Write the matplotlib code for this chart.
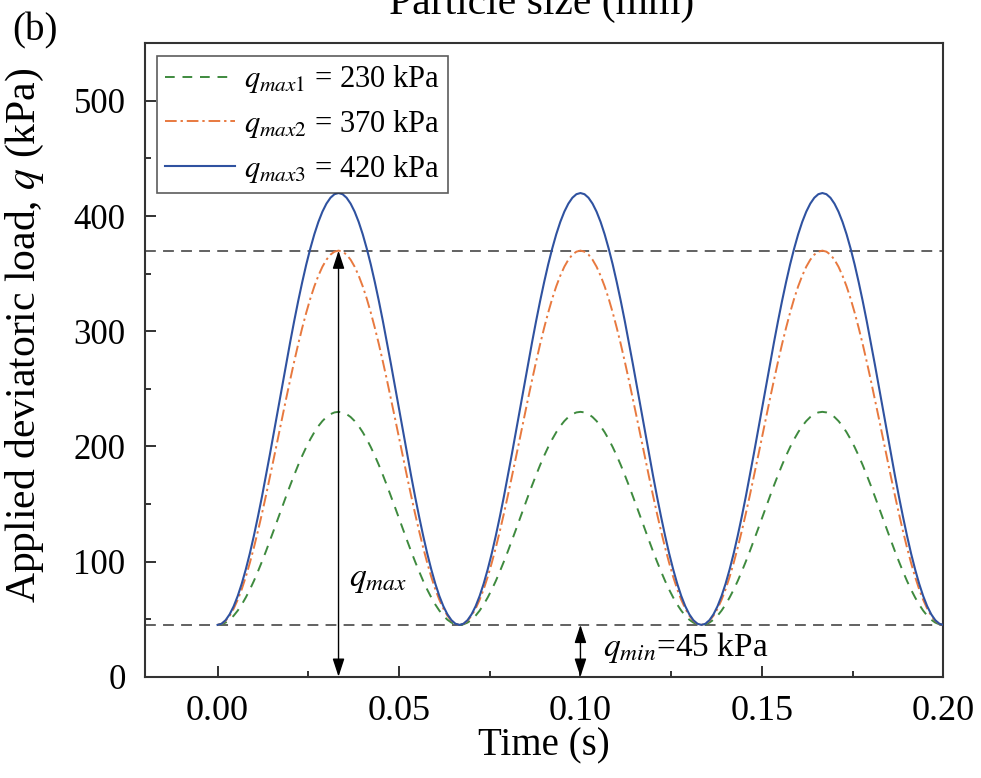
import numpy as np
import matplotlib
matplotlib.use("Agg")
import matplotlib.pyplot as plt
from matplotlib.ticker import MultipleLocator

plt.rcParams['font.family'] = ['Liberation Serif', 'DejaVu Serif']
plt.rcParams['mathtext.fontset'] = 'stix'

# ---- data: one loading cycle (period 1/15 s), repeated 3 times ----
green_cycle = [45.0, 45.5, 47.0, 49.5, 53.0, 57.4, 62.7, 68.8, 75.6, 83.1, 91.3, 99.9, 108.9, 118.3, 127.8,
               137.5, 147.2, 156.7, 166.1, 175.1, 183.8, 191.9, 199.4, 206.2, 212.3, 217.6, 222.0, 225.5, 228.0, 229.5,
               230.0, 229.5, 228.0, 225.5, 222.0, 217.6, 212.3, 206.2, 199.4, 191.9, 183.8, 175.1, 166.1, 156.7, 147.2,
               137.5, 127.8, 118.3, 108.9, 99.9, 91.3, 83.1, 75.6, 68.8, 62.7, 57.4, 53.0, 49.5, 47.0, 45.5]
orange_cycle = [45.0, 45.9, 48.6, 53.0, 59.1, 66.8, 76.0, 86.7, 98.8, 112.0, 126.3, 141.4, 157.3, 173.7, 190.5,
                207.5, 224.5, 241.3, 257.7, 273.6, 288.8, 303.0, 316.2, 328.3, 339.0, 348.2, 356.0, 362.1, 366.5, 369.1,
                370.0, 369.1, 366.5, 362.1, 356.0, 348.2, 339.0, 328.3, 316.2, 303.0, 288.8, 273.6, 257.7, 241.3, 224.5,
                207.5, 190.5, 173.7, 157.3, 141.4, 126.3, 112.0, 98.8, 86.7, 76.0, 66.8, 59.1, 53.0, 48.6, 45.9]
blue_cycle = [45.0, 46.0, 49.1, 54.2, 61.2, 70.1, 80.8, 93.2, 107.0, 122.3, 138.8, 156.2, 174.6, 193.5, 212.9,
              232.5, 252.1, 271.5, 290.4, 308.8, 326.3, 342.7, 358.0, 371.8, 384.2, 394.9, 403.8, 410.8, 415.9, 419.0,
              420.0, 419.0, 415.9, 410.8, 403.8, 394.9, 384.2, 371.8, 358.0, 342.7, 326.3, 308.8, 290.4, 271.5, 252.1,
              232.5, 212.9, 193.5, 174.6, 156.2, 138.8, 122.3, 107.0, 93.2, 80.8, 70.1, 61.2, 54.2, 49.1, 46.0]
q_end = [45.0]
time = np.linspace(0.0, 0.2, 181)
q_green = green_cycle * 3 + q_end
q_orange = orange_cycle * 3 + q_end
q_blue = blue_cycle * 3 + q_end

labels = [r'$q_{\mathit{max1}}$ = 230 kPa', r'$q_{\mathit{max2}}$ = 370 kPa', r'$q_{\mathit{max3}}$ = 420 kPa']
q_min = 45
q_max_ref = 370
t_arrow_max = 1 / 30
t_arrow_min = 0.10
xtick_vals = [0.0, 0.05, 0.10, 0.15, 0.20]
xtick_labels = ['0.00', '0.05', '0.10', '0.15', '0.20']

fig = plt.figure(figsize=(9.81, 7.78), dpi=100)
ax = fig.add_axes([0.1478, 0.1302, 0.8138, 0.8141])

ax.axhline(q_max_ref, color='#555555', lw=1.3, dashes=(6, 4), zorder=1)
ax.axhline(q_min, color='#555555', lw=1.3, dashes=(6, 4), zorder=1)

ax.plot(time, q_green, color='#3e8a3e', lw=1.4, dashes=(5, 4), label=labels[0], zorder=3)
ax.plot(time, q_orange, color='#e8793f', lw=1.4, dashes=(6, 2, 1.2, 2), label=labels[1], zorder=3)
ax.plot(time, q_blue, color='#2f52a0', lw=1.5, label=labels[2], zorder=3)

arrow = dict(arrowstyle='<|-|>,head_length=0.55,head_width=0.18', color='black', lw=1.0,
             mutation_scale=20, shrinkA=0, shrinkB=0)
ax.annotate('', xy=(t_arrow_max, 0), xytext=(t_arrow_max, q_max_ref), arrowprops=arrow, zorder=4)
ax.annotate('', xy=(t_arrow_min, 0), xytext=(t_arrow_min, q_min), arrowprops=arrow, zorder=4)
ax.text(0.0362, 84, r'$q_{\mathit{max}}$', fontsize=24, ha='left', va='center')
ax.text(0.1062, 25, r'$q_{\mathit{min}}$=45 kPa', fontsize=24, ha='left', va='center')

ax.set_xlim(-0.02, 0.2)
ax.set_ylim(0, 550)
ax.xaxis.set_major_locator(MultipleLocator(0.05))
ax.xaxis.set_minor_locator(MultipleLocator(0.025))
ax.yaxis.set_major_locator(MultipleLocator(100))
ax.yaxis.set_minor_locator(MultipleLocator(50))
ax.set_xticks(xtick_vals)
ax.set_xticklabels(xtick_labels)
ax.tick_params(which='both', direction='in', width=1.3, colors='#222222')
ax.tick_params(which='major', length=8)
ax.tick_params(which='minor', length=4)
ax.tick_params(axis='x', labelcolor='black', labelsize=26, pad=13)
ax.tick_params(axis='y', labelcolor='black', labelsize=25, pad=14)
for s in ax.spines.values():
    s.set_linewidth(1.5)
    s.set_color('#333333')

ax.set_xlabel('Time (s)', fontsize=28, labelpad=0)
ax.set_ylabel(r'Applied deviatoric load, $q$ (kPa)', fontsize=30)
ax.yaxis.set_label_coords(-0.124, 0.539)

leg = ax.legend(loc='upper left', fontsize=22, frameon=True, fancybox=False, handlelength=2.3,
                borderpad=0.25, labelspacing=0.42, handletextpad=0.3, borderaxespad=0.4)
leg.get_frame().set_edgecolor('#333333')
leg.get_frame().set_linewidth(1.2)

fig.text(0.012, 0.9486, '(b)', fontsize=28, ha='left', va='baseline')
fig.text(0.552, 0.982, 'Particle size (mm)', fontsize=30, ha='center', va='baseline')

fig.savefig('out.png', dpi=100)
